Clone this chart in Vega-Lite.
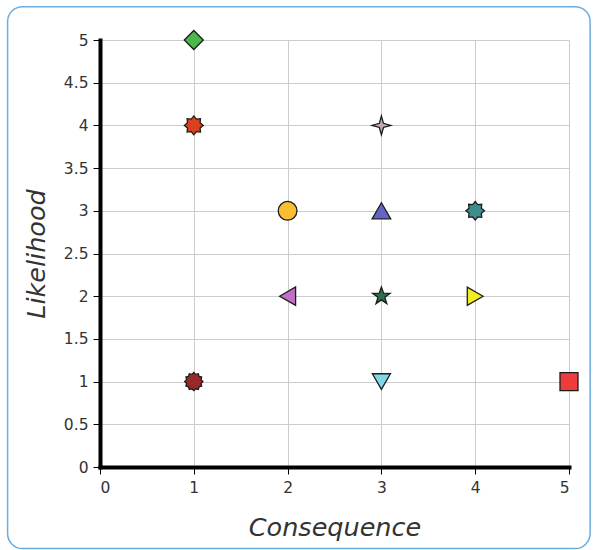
{
  "$schema": "https://vega.github.io/schema/vega-lite/v6.json",
  "width": 469,
  "height": 427,
  "autosize": {"type": "none"},
  "padding": {"left": 100, "top": 40, "right": 25, "bottom": 83},
  "background": "white",
  "config": {
    "view": {"stroke": null},
    "font": "DejaVu Sans"
  },
  "layer": [
    {
      "data": {"values": [{"x0": -0.985, "x1": 5.225, "y0": -0.955, "y1": 5.39}]},
      "mark": {"type": "rect", "fill": null, "stroke": "#6aaee0", "strokeWidth": 1.5, "cornerRadius": 15, "clip": false},
      "encoding": {
        "x": {"field": "x0", "type": "quantitative", "scale": {"domain": [0, 5]}},
        "x2": {"field": "x1"},
        "y": {"field": "y0", "type": "quantitative", "scale": {"domain": [0, 5]}},
        "y2": {"field": "y1"}
      }
    },
    {
      "data": {
        "values": [
          {"risk": "R1", "consequence": 1, "likelihood": 5},
          {"risk": "R2", "consequence": 1, "likelihood": 4},
          {"risk": "R3", "consequence": 3, "likelihood": 4},
          {"risk": "R4", "consequence": 2, "likelihood": 3},
          {"risk": "R5", "consequence": 3, "likelihood": 3},
          {"risk": "R6", "consequence": 4, "likelihood": 3},
          {"risk": "R7", "consequence": 2, "likelihood": 2},
          {"risk": "R8", "consequence": 3, "likelihood": 2},
          {"risk": "R9", "consequence": 4, "likelihood": 2},
          {"risk": "R10", "consequence": 1, "likelihood": 1},
          {"risk": "R11", "consequence": 3, "likelihood": 1},
          {"risk": "R12", "consequence": 5, "likelihood": 1}
        ]
      },
      "mark": {"type": "point", "filled": true, "opacity": 1, "stroke": "#1c1c1c", "strokeWidth": 1.3, "clip": false},
      "encoding": {
        "x": {
          "field": "consequence", "type": "quantitative",
          "scale": {"domain": [0, 5], "nice": false, "zero": true},
          "axis": {
            "title": "Consequence", "titleFont": "DejaVu Sans", "titleFontSize": 25.5, "titleFontStyle": "italic",
            "titleFontWeight": "normal", "titleColor": "#333333", "titlePadding": 20,
            "values": [0, 1, 2, 3, 4, 5], "format": "d",
            "labelFontSize": 15.5, "labelColor": "#333333", "labelPadding": 6, "labelFont": "DejaVu Sans",
            "domainColor": "#000000", "domainWidth": 4, "domainCap": "square",
            "tickColor": "#000000", "tickSize": 7, "tickWidth": 1,
            "grid": true, "gridColor": "#cccccc", "gridWidth": 1
          }
        },
        "y": {
          "field": "likelihood", "type": "quantitative",
          "scale": {"domain": [0, 5], "nice": false, "zero": true},
          "axis": {
            "title": "Likelihood", "titleFont": "DejaVu Sans", "titleFontSize": 25.5, "titleFontStyle": "italic",
            "titleFontWeight": "normal", "titleColor": "#333333", "titlePadding": 14,
            "values": [0, 0.5, 1, 1.5, 2, 2.5, 3, 3.5, 4, 4.5, 5], "format": "~g",
            "labelFontSize": 15.5, "labelColor": "#333333", "labelPadding": 5, "labelFont": "DejaVu Sans",
            "domainColor": "#000000", "domainWidth": 4, "domainCap": "square",
            "tickColor": "#000000", "tickSize": 7, "tickWidth": 1,
            "grid": true, "gridColor": "#cccccc", "gridWidth": 1
          }
        },
        "shape": {
          "field": "risk", "type": "nominal", "legend": null,
          "scale": {
            "domain": ["R1", "R2", "R3", "R4", "R5", "R6", "R7", "R8", "R9", "R10", "R11", "R12"],
            "range": [
              "diamond",
              "M1,0L0.665,0.276L0.707,0.707L0.276,0.665L0,1L-0.276,0.665L-0.707,0.707L-0.665,0.276L-1,0L-0.665,-0.276L-0.707,-0.707L-0.276,-0.665L0,-1L0.276,-0.665L0.707,-0.707L0.665,-0.276Z",
              "M0,-1L0.22,-0.22L1,0L0.22,0.22L0,1L-0.22,0.22L-1,0L-0.22,-0.22Z",
              "circle",
              "triangle-up",
              "M1,0L0.665,0.276L0.707,0.707L0.276,0.665L0,1L-0.276,0.665L-0.707,0.707L-0.665,0.276L-1,0L-0.665,-0.276L-0.707,-0.707L-0.276,-0.665L0,-1L0.276,-0.665L0.707,-0.707L0.665,-0.276Z",
              "triangle-left",
              "M0,-1L0.235,-0.324L0.951,-0.309L0.38,0.124L0.588,0.809L0,0.4L-0.588,0.809L-0.38,0.124L-0.951,-0.309L-0.235,-0.324Z",
              "triangle-right",
              "M1,0L0.792,0.212L0.866,0.5L0.58,0.58L0.5,0.866L0.212,0.792L0,1L-0.212,0.792L-0.5,0.866L-0.58,0.58L-0.866,0.5L-0.792,0.212L-1,0L-0.792,-0.212L-0.866,-0.5L-0.58,-0.58L-0.5,-0.866L-0.212,-0.792L0,-1L0.212,-0.792L0.5,-0.866L0.58,-0.58L0.866,-0.5L0.792,-0.212Z",
              "triangle-down",
              "square"
            ]
          }
        },
        "fill": {
          "field": "risk", "type": "nominal", "legend": null,
          "scale": {
            "domain": ["R1", "R2", "R3", "R4", "R5", "R6", "R7", "R8", "R9", "R10", "R11", "R12"],
            "range": ["#4cb84c", "#d9411e", "#c8a8b0", "#f8c030", "#6464c8", "#3e8e8e", "#c070c8", "#2e6e50", "#eeee22", "#9a2828", "#80d8e6", "#ee3c3c"]
          }
        },
        "size": {
          "field": "risk", "type": "nominal", "legend": null,
          "scale": {
            "domain": ["R1", "R2", "R3", "R4", "R5", "R6", "R7", "R8", "R9", "R10", "R11", "R12"],
            "range": [360, 324, 225, 470, 420, 380, 400, 400, 400, 420, 400, 470]
          }
        }
      }
    }
  ]
}
